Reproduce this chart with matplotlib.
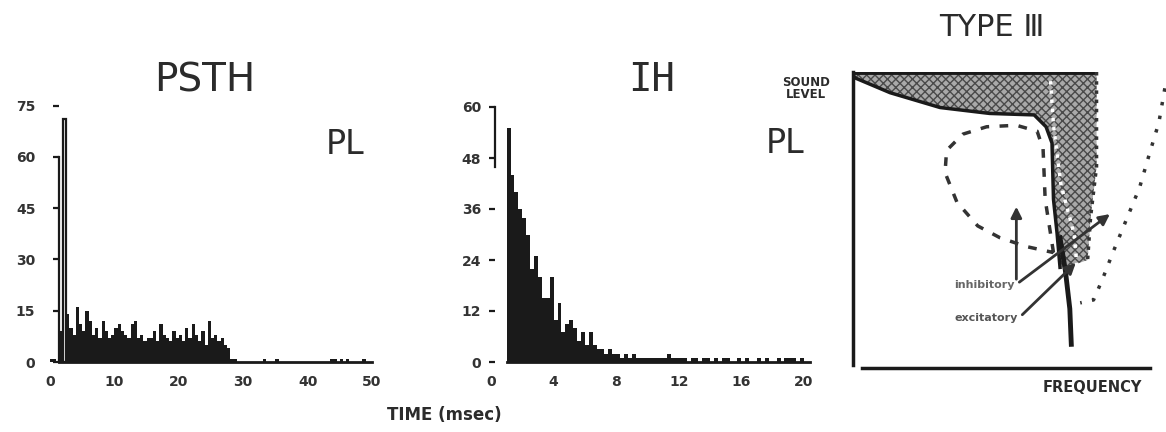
import numpy as np
import matplotlib
matplotlib.use("Agg")
import matplotlib.pyplot as plt
from matplotlib.patches import Polygon

W, H = 1166, 432
INK = "#1a1a1a"
TXT = "#2b2b2b"

# PSTH: 0.5 ms bins, 0 - 50 ms
psth_bin = 0.5
psth_counts = [
    1, 1, 0, 9, 71, 14, 10, 8, 16, 11,
    9, 15, 12, 8, 10, 7, 12, 9, 7, 8,
    10, 11, 9, 8, 7, 11, 12, 7, 8, 6,
    7, 7, 9, 6, 11, 8, 7, 6, 9, 7,
    8, 6, 10, 7, 11, 8, 6, 9, 5, 12,
    7, 8, 6, 7, 5, 4, 1, 1, 0, 0,
    0, 0, 0, 0, 0, 0, 1, 0, 0, 0,
    1, 0, 0, 0, 0, 0, 0, 0, 0, 0,
    0, 0, 0, 0, 0, 0, 0, 1, 1, 0,
    1, 0, 1, 0, 0, 0, 0, 1, 0, 0,
]
psth_yticks = [0, 15, 30, 45, 60, 75]
psth_xticks = [0, 10, 20, 30, 40, 50]

# IH: 0.25 ms bins, 0 - 20 ms
ih_bin = 0.25
ih_counts = [
    0, 0, 0, 0, 55, 44, 40, 36, 34, 30,
    22, 25, 20, 15, 15, 20, 10, 14, 7, 9,
    10, 8, 5, 7, 4, 7, 4, 3, 3, 2,
    3, 2, 2, 1, 2, 1, 2, 1, 1, 1,
    1, 1, 1, 1, 1, 2, 1, 1, 1, 1,
    0, 1, 1, 0, 1, 1, 0, 1, 0, 1,
    1, 0, 0, 1, 0, 1, 0, 0, 1, 0,
    1, 0, 0, 1, 0, 1, 1, 1, 0, 1,
]
ih_yticks = [0, 12, 24, 36, 48, 60]
ih_xticks = [0, 4, 8, 12, 16, 20]

# Type III schematic (frequency / sound level, both 0-1)
thresh_f = [0.0, 0.007, 0.125, 0.293, 0.46, 0.61, 0.65, 0.67, 0.675, 0.687, 0.697]
thresh_l = [0.99, 0.98, 0.93, 0.88, 0.86, 0.855, 0.815, 0.76, 0.57, 0.456, 0.34]
shade_right_f = [0.82, 0.82, 0.80, 0.79, 0.72]
shade_right_l = [1.0, 0.68, 0.51, 0.365, 0.34]
tip_f = [0.697, 0.715, 0.73, 0.735]
tip_l = [0.44, 0.33, 0.2, 0.08]
inhib_f = [0.675, 0.647, 0.64, 0.62, 0.55, 0.45, 0.37, 0.315, 0.31, 0.35, 0.42, 0.495, 0.585, 0.675]
inhib_l = [0.39, 0.57, 0.74, 0.80, 0.82, 0.815, 0.79, 0.735, 0.66, 0.56, 0.48, 0.44, 0.41, 0.39]
excit_f = [1.05, 1.03, 1.0, 0.965, 0.92, 0.875, 0.84, 0.81, 0.765]
excit_l = [0.945, 0.83, 0.73, 0.61, 0.5, 0.39, 0.3, 0.23, 0.22]
excit_left_f = [0.765, 0.745, 0.70, 0.675, 0.665]
excit_left_l = [0.22, 0.45, 0.62, 0.82, 0.97]


def fx(px):
    return px / W


def fy(py):
    return 1 - py / H


fig = plt.figure(figsize=(W / 100, H / 100), dpi=100)
fig.patch.set_facecolor("white")

# ---- PSTH ----
ax1 = fig.add_axes([fx(50), fy(362), 322 / W, 256.5 / H])
edges = np.arange(len(psth_counts)) * psth_bin
peak = int(np.argmax(psth_counts))
fc = [INK] * len(psth_counts)
fc[peak] = "white"
ax1.bar(edges, psth_counts, width=psth_bin, align="edge", color=fc,
        edgecolor=[INK if i == peak else "none" for i in range(len(psth_counts))],
        linewidth=1.6)
ax1.set_xlim(0, 50)
ax1.set_ylim(0, 75)
ax1.set_xticks(psth_xticks)
ax1.set_yticks(psth_yticks)
ax1.spines["left"].set_position(("data", 1.4))
ax1.spines["left"].set_bounds(0, 60)
ax1.spines["bottom"].set_bounds(1.4, 50)

# ---- IH ----
ax2 = fig.add_axes([fx(491), fy(362), 313 / W, 255 / H])
edges = np.arange(len(ih_counts)) * ih_bin
ax2.bar(edges, ih_counts, width=ih_bin, align="edge", color=INK, linewidth=0)
ax2.set_xlim(0, 20)
ax2.set_ylim(0, 60)
ax2.set_xticks(ih_xticks)
ax2.set_yticks(ih_yticks)
ax2.spines["left"].set_position(("data", 0.25))
ax2.spines["left"].set_bounds(46, 60)
ax2.spines["bottom"].set_bounds(1.0, 20.4)

for ax, pad in ((ax1, 13), (ax2, 6)):
    for s in ("top", "right"):
        ax.spines[s].set_visible(False)
    ax.spines["left"].set_linewidth(1.6)
    ax.spines["bottom"].set_linewidth(2)
    ax.spines["left"].set_color(INK)
    ax.spines["bottom"].set_color(INK)
    ax.tick_params(axis="y", length=4, width=1.6, color=INK, pad=pad,
                   labelsize=10, labelcolor="#333")
    ax.tick_params(axis="x", length=0, pad=9, labelsize=10, labelcolor="#333")
    for lab in ax.get_xticklabels() + ax.get_yticklabels():
        lab.set_fontweight("bold")
    ax.set_facecolor("white")

fig.text(fx(205), fy(80), "PSTH", fontsize=28, color=TXT, ha="center", va="center")
fig.text(fx(652), fy(80), "IH", fontsize=28, color=TXT, ha="center", va="center",
         family="DejaVu Sans Mono")
fig.text(fx(345), fy(145), "PL", fontsize=24, color=TXT, ha="center", va="center")
fig.text(fx(785), fy(143), "PL", fontsize=24, color=TXT, ha="center", va="center")
fig.text(fx(444), fy(415), "TIME (msec)", fontsize=12, fontweight="bold",
         color=TXT, ha="center", va="center")

# ---- Type III schematic ----
ax3 = fig.add_axes([fx(853), fy(368), 297 / W, 296 / H])
ax3.set_xlim(0, 1)
ax3.set_ylim(0, 1)
ax3.set_xticks([])
ax3.set_yticks([])
for s in ("top", "right"):
    ax3.spines[s].set_visible(False)
ax3.spines["left"].set_bounds(0.01, 1.0)
ax3.spines["bottom"].set_bounds(0.03, 1.0)
ax3.spines["left"].set_linewidth(2.5)
ax3.spines["bottom"].set_linewidth(2.5)
ax3.spines["left"].set_color(INK)
ax3.spines["bottom"].set_color(INK)

poly = [(0.0, 1.0)] + list(zip(shade_right_f, shade_right_l)) \
    + list(zip(thresh_f[::-1], thresh_l[::-1]))
ax3.add_patch(Polygon(poly, closed=True, facecolor="#a9a9a9",
                      edgecolor="#4a4a4a", hatch="xxxx", linewidth=0, zorder=1))
ax3.plot(excit_left_f, excit_left_l, color="white", lw=2.5, ls=":", zorder=2)
ax3.plot([0.0, 0.82], [1.0, 1.0], color=INK, lw=3.5, solid_capstyle="butt", zorder=3)
ax3.plot(shade_right_f[:4], shade_right_l[:4], color="#333", lw=2.5, ls=":", zorder=3)
ax3.plot(thresh_f, thresh_l, color=INK, lw=2.5, zorder=3)
ax3.plot(tip_f, tip_l, color=INK, lw=3.5, zorder=3)
ax3.plot(inhib_f, inhib_l, color="#333", lw=2.5, ls=(0, (2.5, 3)), zorder=4)
ax3.plot(excit_f, excit_l, color="#333", lw=2.5, ls=(0, (1, 3)),
         clip_on=False, zorder=4)

arrow = dict(arrowstyle="-|>", lw=2, color="#333", mutation_scale=16,
             shrinkA=0, shrinkB=0)
ax3.annotate("", xy=(0.55, 0.545), xytext=(0.55, 0.30), arrowprops=arrow, zorder=5)
ax3.annotate("", xy=(0.865, 0.52), xytext=(0.56, 0.29), arrowprops=arrow, zorder=5)
ax3.annotate("", xy=(0.75, 0.355), xytext=(0.57, 0.18), arrowprops=arrow, zorder=5)
ax3.text(0.545, 0.28, "inhibitory", fontsize=8, fontweight="bold", color="#666",
         ha="right", va="center")
ax3.text(0.555, 0.17, "excitatory", fontsize=8, fontweight="bold", color="#555",
         ha="right", va="center")

fig.text(fx(1142), fy(387), "FREQUENCY", fontsize=10.5, fontweight="bold",
         color=TXT, ha="right", va="center")
fig.text(fx(806), fy(89), "SOUND\nLEVEL", fontsize=8.5, fontweight="bold",
         color=TXT, ha="center", va="center", linespacing=0.9)
fig.text(fx(992), fy(28), "TYPE \u2162", fontsize=22, color=TXT,
         ha="center", va="center")

fig.savefig("out.png", dpi=100, facecolor="white")
